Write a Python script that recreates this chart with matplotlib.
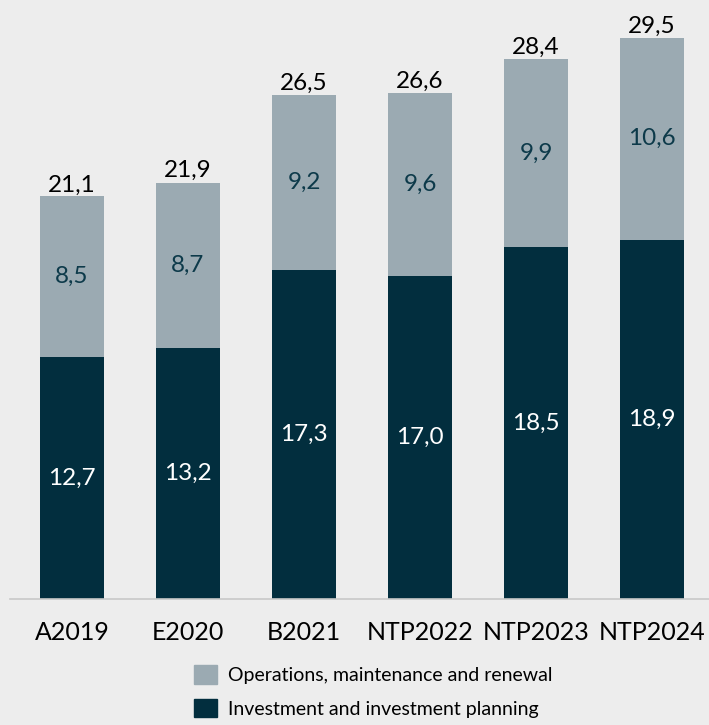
import matplotlib
matplotlib.use("Agg")
import matplotlib.pyplot as plt
from matplotlib.patches import Patch
import numpy as np

plt.rcParams['font.family'] = ['Lato', 'DejaVu Sans']

# data
categories = ['A2019', 'E2020', 'B2021', 'NTP2022', 'NTP2023', 'NTP2024']
investment = [12.7, 13.2, 17.3, 17.0, 18.5, 18.9]
operations = [8.5, 8.7, 9.2, 9.6, 9.9, 10.6]
totals = [21.1, 21.9, 26.5, 26.6, 28.4, 29.5]

bg = '#ededed'
dark = '#022e3e'
light = '#9baab2'


def fmt(v):
    return '{:.1f}'.format(v).replace('.', ',')


fig = plt.figure(figsize=(7.09, 7.25), dpi=100, facecolor=bg)
ax = fig.add_axes([10 / 709, 126 / 725, 699 / 709, 599 / 725])
ax.set_facecolor(bg)

x = np.arange(len(categories))
w = 0.55
ax.bar(x, investment, w, color=dark)
ax.bar(x, operations, w, bottom=investment, color=light)

for i in range(len(categories)):
    ax.text(x[i], investment[i] / 2, fmt(investment[i]), ha='center', va='center',
            color='white', fontsize=17.5)
    ax.text(x[i], investment[i] + operations[i] / 2, fmt(operations[i]), ha='center',
            va='center', color='#0d3a4a', fontsize=17.5)
    ax.text(x[i], totals[i] + 0.08, fmt(totals[i]), ha='center', va='bottom',
            color='black', fontsize=17.5)

ax.set_xlim(-0.534, 5.49)
ax.set_ylim(0, 31.5)
ax.set_xticks(x)
ax.set_xticklabels(categories, fontsize=18)
ax.tick_params(axis='x', length=0, pad=16)
ax.set_yticks([])
for s in ['top', 'right', 'left']:
    ax.spines[s].set_visible(False)
ax.spines['bottom'].set_color('#c8c8c8')
ax.spines['bottom'].set_linewidth(1.2)

handles = [Patch(color=light, label='Operations, maintenance and renewal'),
           Patch(color=dark, label='Investment and investment planning')]
fig.legend(handles=handles, loc='lower left', bbox_to_anchor=(182 / 709, -0.006),
           frameon=False, fontsize=14, handlelength=1.2, handleheight=1.1,
           handletextpad=0.55, labelspacing=0.75, borderpad=0.1)

fig.savefig('out.png', dpi=100, facecolor=bg)
